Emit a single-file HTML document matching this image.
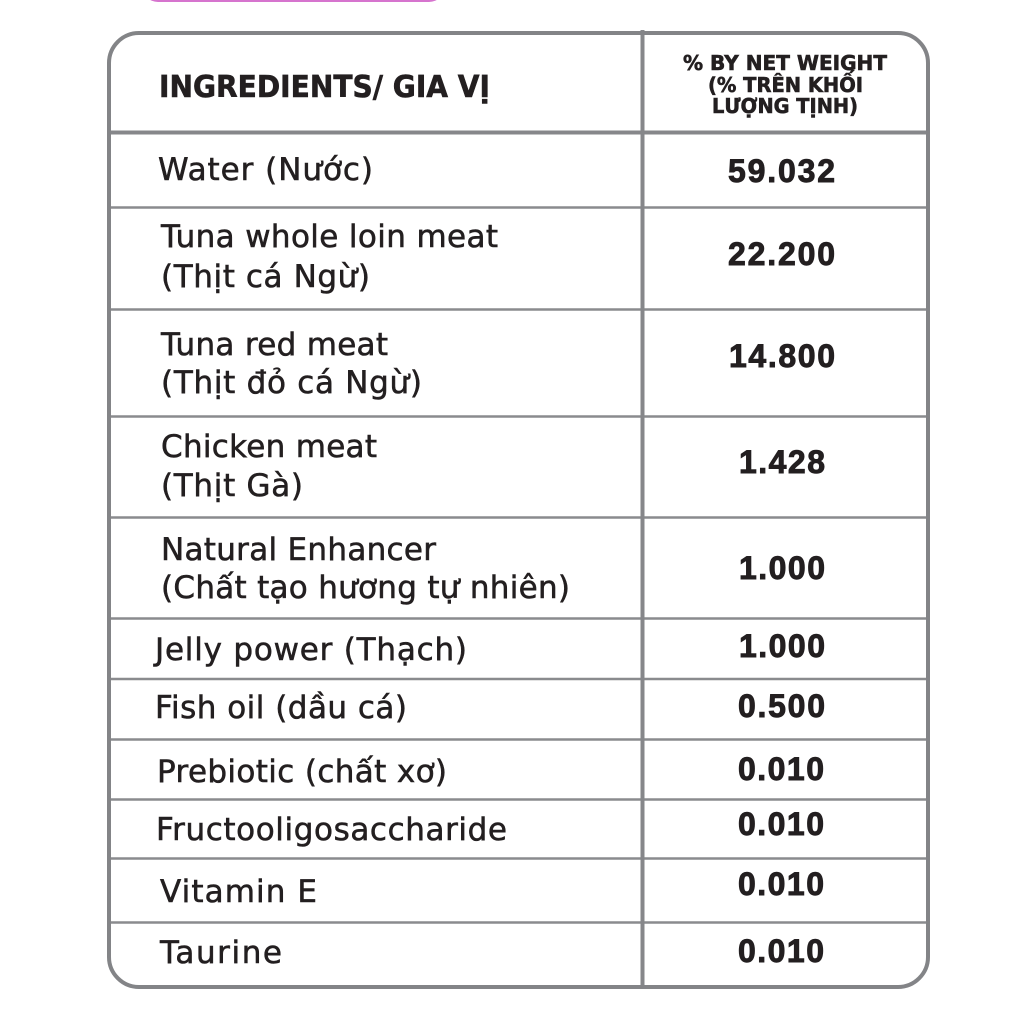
<!DOCTYPE html>
<html>
<head>
<meta charset="utf-8">
<style>
  html, body { margin:0; padding:0; background:#ffffff; }
  svg { display:block; }
  .b { font-family: "DejaVu Sans", "Liberation Sans", sans-serif; font-size:31px; fill:#231f20; stroke:#231f20; stroke-width:0.55px; }
  .h { font-family: "DejaVu Sans", "Liberation Sans", sans-serif; font-weight:bold; fill:#231f20; stroke:#231f20; stroke-width:0.6px; }
  .v { font-family: "Liberation Sans", "DejaVu Sans", sans-serif; font-weight:bold; font-size:32px; fill:#231f20; stroke:#231f20; stroke-width:0.9px; }
</style>
</head>
<body>
<svg width="1024" height="1024" viewBox="0 0 1024 1024" xmlns="http://www.w3.org/2000/svg">
  <rect x="0" y="0" width="1024" height="1024" fill="#ffffff"/>
  <!-- pink sliver at top -->
  <rect x="142" y="-30" width="303" height="32" rx="16" fill="#d674ce"/>

  <!-- inner horizontal lines -->
  <g stroke="#8a8b8e" stroke-width="2.5">
    <line x1="109" y1="207.5" x2="928" y2="207.5"/>
    <line x1="109" y1="309.5" x2="928" y2="309.5"/>
    <line x1="109" y1="416.5" x2="928" y2="416.5"/>
    <line x1="109" y1="517.5" x2="928" y2="517.5"/>
    <line x1="109" y1="618.5" x2="928" y2="618.5"/>
    <line x1="109" y1="679" x2="928" y2="679"/>
    <line x1="109" y1="739.5" x2="928" y2="739.5"/>
    <line x1="109" y1="799.5" x2="928" y2="799.5"/>
    <line x1="109" y1="858.5" x2="928" y2="858.5"/>
    <line x1="109" y1="922.5" x2="928" y2="922.5"/>
  </g>
  <!-- header line -->
  <line x1="109" y1="132.5" x2="928" y2="132.5" stroke="#86878a" stroke-width="4"/>
  <!-- column divider -->
  <line x1="642.5" y1="30" x2="642.5" y2="985" stroke="#86878a" stroke-width="4"/>
  <!-- outer border -->
  <rect x="109" y="33" width="819" height="954" rx="30" ry="30" fill="none" stroke="#838487" stroke-width="4"/>

  <!-- header -->
  <text class="h" x="159" y="97" font-size="30" textLength="331" lengthAdjust="spacingAndGlyphs">INGREDIENTS/ GIA VỊ</text>
  <text class="h" x="785" y="70" font-size="20" text-anchor="middle" textLength="204" lengthAdjust="spacingAndGlyphs">% BY NET WEIGHT</text>
  <text class="h" x="785.5" y="92" font-size="20" text-anchor="middle" textLength="155" lengthAdjust="spacingAndGlyphs">(% TRÊN KHỐI</text>
  <text class="h" x="785" y="113" font-size="20" text-anchor="middle" textLength="146" lengthAdjust="spacingAndGlyphs">LƯỢNG TỊNH)</text>

  <!-- left column -->
  <text class="b" x="158" y="180" textLength="215" lengthAdjust="spacing">Water (Nước)</text>
  <text class="b" x="161" y="247" textLength="337" lengthAdjust="spacing">Tuna whole loin meat</text>
  <text class="b" x="161" y="287" textLength="209" lengthAdjust="spacing">(Thịt cá Ngừ)</text>
  <text class="b" x="161" y="355" textLength="227" lengthAdjust="spacing">Tuna red meat</text>
  <text class="b" x="161" y="393" textLength="261" lengthAdjust="spacing">(Thịt đỏ cá Ngừ)</text>
  <text class="b" x="161" y="457" textLength="216" lengthAdjust="spacing">Chicken meat</text>
  <text class="b" x="161" y="496" textLength="142" lengthAdjust="spacing">(Thịt Gà)</text>
  <text class="b" x="161" y="560" textLength="275" lengthAdjust="spacing">Natural Enhancer</text>
  <text class="b" x="161" y="598" textLength="409" lengthAdjust="spacing">(Chất tạo hương tự nhiên)</text>
  <text class="b" x="155" y="660" textLength="312" lengthAdjust="spacing">Jelly power (Thạch)</text>
  <text class="b" x="155" y="718" textLength="252" lengthAdjust="spacing">Fish oil (dầu cá)</text>
  <text class="b" x="157" y="782" textLength="290" lengthAdjust="spacing">Prebiotic (chất xơ)</text>
  <text class="b" x="156" y="840" textLength="351" lengthAdjust="spacing">Fructooligosaccharide</text>
  <text class="b" x="160" y="902" textLength="157" lengthAdjust="spacing">Vitamin E</text>
  <text class="b" x="160" y="963" textLength="122" lengthAdjust="spacing">Taurine</text>

  <!-- values -->
  <text class="v" x="781.5" y="182" text-anchor="middle" textLength="107" lengthAdjust="spacing">59.032</text>
  <text class="v" x="781.5" y="265" text-anchor="middle" textLength="107" lengthAdjust="spacing">22.200</text>
  <text class="v" x="782" y="367" text-anchor="middle" textLength="106" lengthAdjust="spacing">14.800</text>
  <text class="v" x="782" y="473" text-anchor="middle" textLength="86" lengthAdjust="spacing">1.428</text>
  <text class="v" x="782" y="579" text-anchor="middle" textLength="86" lengthAdjust="spacing">1.000</text>
  <text class="v" x="782" y="657" text-anchor="middle" textLength="86" lengthAdjust="spacing">1.000</text>
  <text class="v" x="781.5" y="717" text-anchor="middle" textLength="87" lengthAdjust="spacing">0.500</text>
  <text class="v" x="781" y="780" text-anchor="middle" textLength="86" lengthAdjust="spacing">0.010</text>
  <text class="v" x="781" y="835" text-anchor="middle" textLength="86" lengthAdjust="spacing">0.010</text>
  <text class="v" x="781" y="895" text-anchor="middle" textLength="86" lengthAdjust="spacing">0.010</text>
  <text class="v" x="781" y="962" text-anchor="middle" textLength="86" lengthAdjust="spacing">0.010</text>
</svg>
</body>
</html>
